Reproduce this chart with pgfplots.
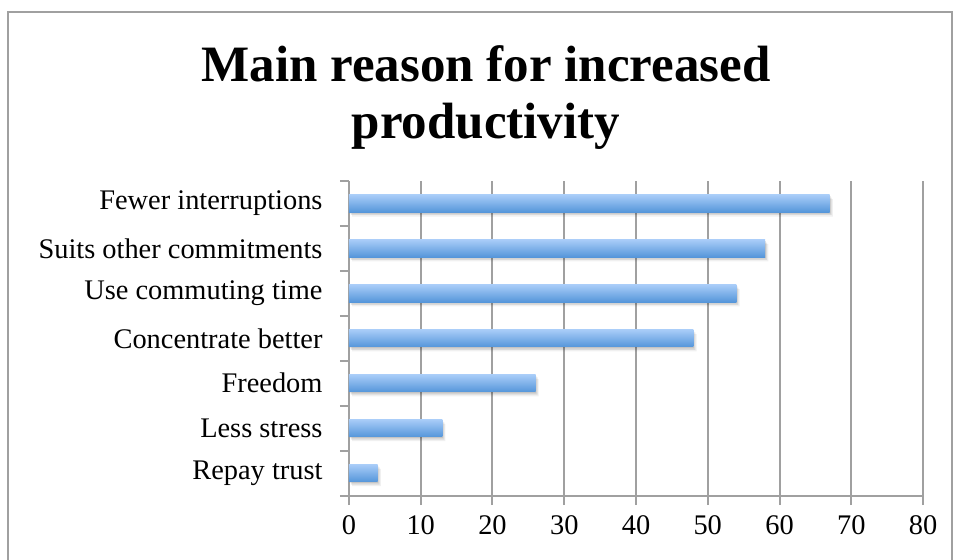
\documentclass[border=0pt]{standalone}
\usepackage{pgfplots}
\pgfplotsset{compat=1.18}
\usepackage{fontspec}
\setmainfont{Liberation Serif}
\definecolor{gridgray}{HTML}{A0A0A0}
\definecolor{bartop}{HTML}{A8CCF8}
\definecolor{barbot}{HTML}{5596DA}

\pgfplotsset{
  bar/.style={xbar, bar width=8.65pt, bar shift=0pt, draw=none,
              top color=bartop, bottom color=barbot},
  shadowbar/.style={xbar, bar width=8.65pt, bar shift=0pt, draw=none,
                    fill=black, fill opacity=#1},
}

\begin{document}
\begin{tikzpicture}[x=1pt,y=1pt]
  \path[use as bounding box] (0,0) rectangle (477,279.5);
  % chart frame
  \draw[gridgray, line width=0.6pt] (4,-10) -- (4,273.5) -- (476,273.5) -- (476,-10);
  % title
  \node[anchor=base, inner sep=0pt, font=\fontsize{25.5}{30}\selectfont\bfseries] at (243,239) {Main reason for increased};
  \node[anchor=base, inner sep=0pt, font=\fontsize{25.5}{30}\selectfont\bfseries] at (243,210.5) {productivity};
  \begin{axis}[
    at={(174.5pt,31.7pt)}, anchor=south west,
    width=287pt, height=157.3pt, scale only axis,
    xmin=0, xmax=80, ymin=-0.5, ymax=6.5,
    axis lines=left,
    axis line style={-, gridgray, line width=1pt},
    xtick={0,10,...,80},
    ytick={0,...,6},
    yticklabels={Repay trust, Less stress, Freedom, Concentrate better,
                 Use commuting time, Suits other commitments, Fewer interruptions},
    minor ytick={-0.5,0.5,...,6.5},
    tick align=outside,
    major tick length=4.7pt,
    minor tick length=4.5pt,
    tick style={gridgray, line width=1pt},
    major y tick style={draw=none},
    xmajorgrids,
    grid style={gridgray, line width=1pt},
    tick label style={font=\fontsize{14.2}{16}\selectfont},
    /pgf/number format/assume math mode=true,
    xticklabel style={yshift=-2pt},
    yticklabel style={xshift=-5pt},
  ]
    % soft shadow under the bars, built from a few offset layers
    \addplot[shadowbar=0.10, xshift=0.4pt, yshift=-0.7pt]
      coordinates {(4,0) (13,1) (26,2) (48,3) (54,4) (58,5) (67,6)};
    \addplot[shadowbar=0.09, xshift=1.0pt, yshift=-1.4pt]
      coordinates {(4,0) (13,1) (26,2) (48,3) (54,4) (58,5) (67,6)};
    \addplot[shadowbar=0.06, xshift=1.6pt, yshift=-2.2pt]
      coordinates {(4,0) (13,1) (26,2) (48,3) (54,4) (58,5) (67,6)};
    % bars, one per category so each gets its own gradient
    \addplot[bar] coordinates {(4,0)};
    \addplot[bar] coordinates {(13,1)};
    \addplot[bar] coordinates {(26,2)};
    \addplot[bar] coordinates {(48,3)};
    \addplot[bar] coordinates {(54,4)};
    \addplot[bar] coordinates {(58,5)};
    \addplot[bar] coordinates {(67,6)};
  \end{axis}
\end{tikzpicture}
\end{document}
